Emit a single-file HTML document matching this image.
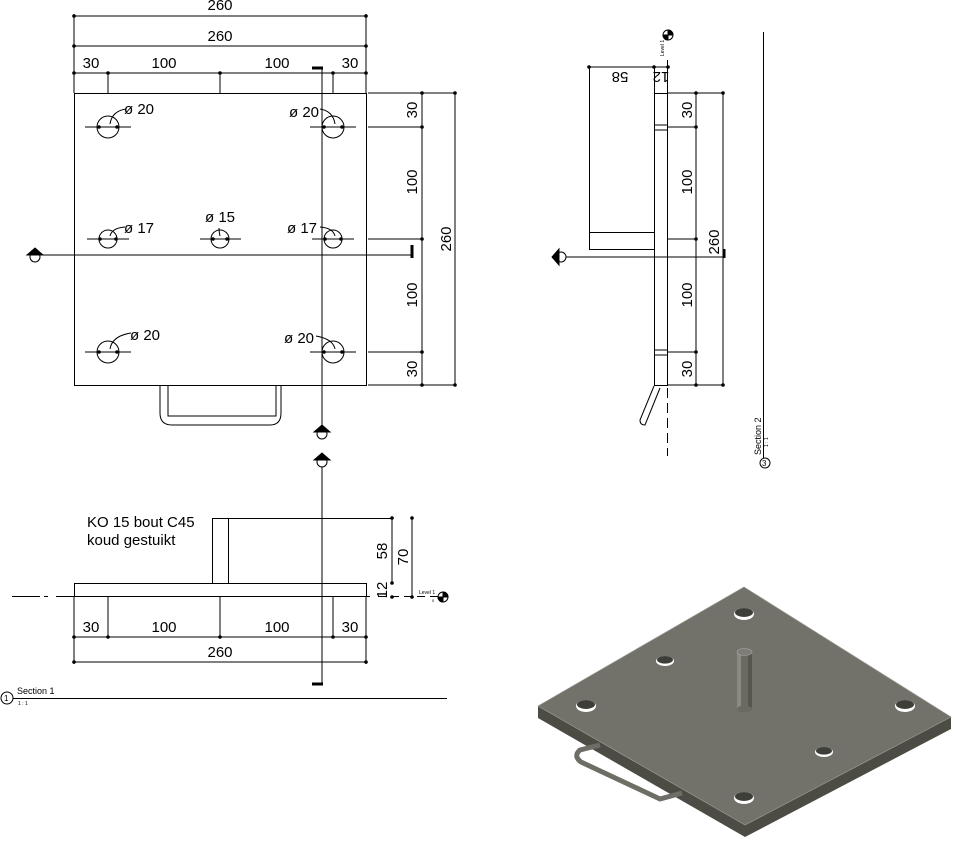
<!DOCTYPE html>
<html><head><meta charset="utf-8"><style>
html,body{margin:0;padding:0;background:#fff;}
svg{display:block;font-family:"Liberation Sans",sans-serif;}
</style></head><body>
<svg width="955" height="844" viewBox="0 0 955 844" xmlns="http://www.w3.org/2000/svg">
<g stroke="#000" stroke-width="1" fill="none">
<rect x="74.5" y="93.5" width="292" height="292"/>
<line x1="74" y1="16" x2="367" y2="16"/><line x1="74" y1="46" x2="367" y2="46"/><line x1="74" y1="73" x2="367" y2="73"/>
<line x1="74" y1="14" x2="74" y2="93"/><line x1="366" y1="14" x2="366" y2="93"/>
<line x1="108" y1="73" x2="108" y2="93"/><line x1="220" y1="73" x2="220" y2="93"/><line x1="333" y1="73" x2="333" y2="93"/>
<circle cx="108" cy="127" r="11"/><circle cx="333" cy="127" r="11"/>
<circle cx="108" cy="239" r="9"/><circle cx="220" cy="239" r="9"/><circle cx="333" cy="239" r="9"/>
<circle cx="108" cy="352" r="11"/><circle cx="333" cy="352" r="11"/>
<line x1="85" y1="127" x2="131" y2="127"/><line x1="310" y1="127" x2="356" y2="127"/>
<line x1="87" y1="239" x2="129" y2="239"/><line x1="200" y1="239" x2="241" y2="239"/><line x1="312" y1="239" x2="354" y2="239"/>
<line x1="85" y1="352" x2="131" y2="352"/><line x1="310" y1="352" x2="356" y2="352"/>
<path d="M110 124 Q112 111 126 109"/><path d="M335 124 Q333 111 320 109"/>
<path d="M110 236 Q112 228 125 227"/><path d="M335 236 Q333 228 320 227"/><path d="M220 236 Q219 232 219 228"/>
<path d="M110 349 Q112 336 131 333"/><path d="M335 349 Q333 339 316 336"/>
<line x1="368" y1="93" x2="456" y2="93"/><line x1="368" y1="385" x2="456" y2="385"/>
<line x1="368" y1="127" x2="422" y2="127"/><line x1="368" y1="239" x2="422" y2="239"/><line x1="368" y1="352" x2="422" y2="352"/>
<line x1="422" y1="93" x2="422" y2="385"/><line x1="455" y1="93" x2="455" y2="385"/>
<line x1="35" y1="255" x2="412" y2="255"/><path d="M412 245 V258" stroke-width="3"/>
<line x1="322" y1="68" x2="322" y2="432"/><path d="M312 68 H323" stroke-width="3"/>
<line x1="322" y1="460" x2="322" y2="684"/><path d="M312 684 H323" stroke-width="3"/>
<path d="M160 385 V413 Q160 425 172 425 H270 Q281 425 281 413 V385"/>
<path d="M168 385 V416 H276 V385"/>
<rect x="74.5" y="583.5" width="292" height="13"/>
<path d="M212.5 583 V518.5 H228.5 V583"/>
<line x1="228" y1="518.5" x2="392" y2="518.5"/>
<line x1="12" y1="596.5" x2="40" y2="596.5"/><line x1="44" y1="596.5" x2="48" y2="596.5"/><line x1="56" y1="596.5" x2="370" y2="596.5"/>
<line x1="378" y1="596.5" x2="440" y2="596.5" stroke-dasharray="8 5"/>
<line x1="74" y1="597" x2="74" y2="664"/><line x1="108" y1="597" x2="108" y2="637"/><line x1="220" y1="597" x2="220" y2="637"/><line x1="333" y1="597" x2="333" y2="637"/><line x1="366" y1="597" x2="366" y2="664"/>
<line x1="74" y1="637" x2="367" y2="637"/><line x1="74" y1="662" x2="367" y2="662"/>
<line x1="392" y1="518" x2="392" y2="583"/><line x1="412" y1="518" x2="412" y2="597"/>
<line x1="3" y1="698.5" x2="447" y2="698.5"/>
<circle cx="7" cy="698" r="6" fill="#fff"/>
<rect x="654.5" y="93.5" width="13" height="292"/>
<line x1="654" y1="125" x2="667" y2="125"/><line x1="654" y1="130" x2="667" y2="130"/>
<line x1="654" y1="350" x2="667" y2="350"/><line x1="654" y1="355" x2="667" y2="355"/>
<path d="M654 232.5 H589.5 V249.5 H654"/>
<line x1="589.5" y1="66" x2="589.5" y2="232"/>
<line x1="589" y1="67" x2="669" y2="67"/><line x1="654.5" y1="67" x2="654.5" y2="93"/><line x1="667.5" y1="60" x2="667.5" y2="93"/>
<line x1="667" y1="93" x2="724" y2="93"/><line x1="667" y1="385" x2="724" y2="385"/>
<line x1="667" y1="127" x2="696" y2="127"/><line x1="667" y1="239" x2="696" y2="239"/><line x1="667" y1="352" x2="696" y2="352"/>
<line x1="696" y1="93" x2="696" y2="385"/><line x1="723" y1="93" x2="723" y2="385"/>
<line x1="560" y1="257" x2="724" y2="257"/><path d="M724 249 V258" stroke-width="3"/>
<line x1="667.5" y1="388" x2="667.5" y2="456" stroke-dasharray="10 5"/>
<path d="M654 386 L640 420 Q640 425 645 425 L660 388"/>
<line x1="763.5" y1="32" x2="763.5" y2="458"/>
<circle cx="765" cy="463" r="5" fill="#fff"/>
</g>
<g fill="#000">
<circle cx="74" cy="16" r="1.8"/><circle cx="366" cy="16" r="1.8"/><circle cx="74" cy="46" r="1.8"/><circle cx="366" cy="46" r="1.8"/>
<circle cx="74" cy="73" r="1.8"/><circle cx="108" cy="73" r="1.8"/><circle cx="220" cy="73" r="1.8"/><circle cx="333" cy="73" r="1.8"/><circle cx="366" cy="73" r="1.8"/>
<circle cx="422" cy="93" r="1.8"/><circle cx="422" cy="127" r="1.8"/><circle cx="422" cy="239" r="1.8"/><circle cx="422" cy="352" r="1.8"/><circle cx="422" cy="385" r="1.8"/>
<circle cx="455" cy="93" r="1.8"/><circle cx="455" cy="385" r="1.8"/>
<circle cx="99" cy="127" r="1.8"/><circle cx="117" cy="127" r="1.8"/><circle cx="324" cy="127" r="1.8"/><circle cx="342" cy="127" r="1.8"/>
<circle cx="100" cy="239" r="1.8"/><circle cx="116" cy="239" r="1.8"/><circle cx="213" cy="239" r="1.8"/><circle cx="227" cy="239" r="1.8"/><circle cx="325" cy="239" r="1.8"/><circle cx="341" cy="239" r="1.8"/>
<circle cx="99" cy="352" r="1.8"/><circle cx="117" cy="352" r="1.8"/><circle cx="324" cy="352" r="1.8"/><circle cx="342" cy="352" r="1.8"/>
<circle cx="74" cy="637" r="1.8"/><circle cx="108" cy="637" r="1.8"/><circle cx="220" cy="637" r="1.8"/><circle cx="333" cy="637" r="1.8"/><circle cx="366" cy="637" r="1.8"/>
<circle cx="74" cy="662" r="1.8"/><circle cx="366" cy="662" r="1.8"/>
<circle cx="392" cy="518" r="1.8"/><circle cx="392" cy="583" r="1.8"/><circle cx="392" cy="597" r="1.8"/><circle cx="412" cy="518" r="1.8"/><circle cx="412" cy="597" r="1.8"/>
<circle cx="589" cy="67" r="1.8"/><circle cx="654" cy="67" r="1.8"/><circle cx="668" cy="67" r="1.8"/>
<circle cx="696" cy="93" r="1.8"/><circle cx="696" cy="127" r="1.8"/><circle cx="696" cy="239" r="1.8"/><circle cx="696" cy="352" r="1.8"/><circle cx="696" cy="385" r="1.8"/>
<circle cx="723" cy="93" r="1.8"/><circle cx="723" cy="385" r="1.8"/>
</g>
<g stroke="#000" fill="#fff" stroke-width="1">
<circle cx="35" cy="257" r="5"/><path d="M27 255 L35 248 L43 255 Z" fill="#000"/>
<circle cx="322" cy="434" r="5"/><path d="M314 432 L322 425 L330 432 Z" fill="#000"/>
<circle cx="322" cy="462" r="5"/><path d="M314 460 L322 453 L330 460 Z" fill="#000"/>
<circle cx="561" cy="257" r="5"/><path d="M559 249 L552 257 L559 265 Z" fill="#000"/>
<circle cx="443" cy="597" r="5"/><path d="M443 592 A5 5 0 0 1 448 597 H443 Z M443 597 V602 A5 5 0 0 1 438 597 Z" fill="#000"/>
<circle cx="668" cy="35" r="5"/><path d="M668 30 A5 5 0 0 1 673 35 H668 Z M668 35 V40 A5 5 0 0 1 663 35 Z" fill="#000"/>
</g>
<g font-size="15" fill="#000">
<text x="220" y="10" text-anchor="middle">260</text>
<text x="220" y="41" text-anchor="middle">260</text>
<text x="91" y="68" text-anchor="middle">30</text><text x="164" y="68" text-anchor="middle">100</text><text x="277" y="68" text-anchor="middle">100</text><text x="350" y="68" text-anchor="middle">30</text>
<text x="124" y="114">ø 20</text><text x="289" y="117">ø 20</text>
<text x="124" y="233">ø 17</text><text x="205" y="222">ø 15</text><text x="287" y="233">ø 17</text>
<text x="130" y="340">ø 20</text><text x="284" y="343">ø 20</text>
<text transform="translate(417,110) rotate(-90)" text-anchor="middle">30</text>
<text transform="translate(417,182) rotate(-90)" text-anchor="middle">100</text>
<text transform="translate(417,295) rotate(-90)" text-anchor="middle">100</text>
<text transform="translate(417,369) rotate(-90)" text-anchor="middle">30</text>
<text transform="translate(451,239) rotate(-90)" text-anchor="middle">260</text>
<text x="87" y="527">KO 15 bout C45</text><text x="87" y="545">koud gestuikt</text>
<text transform="translate(387,551) rotate(-90)" text-anchor="middle">58</text>
<text transform="translate(408,557) rotate(-90)" text-anchor="middle">70</text>
<text transform="translate(387,590) rotate(-90)" text-anchor="middle">12</text>
<text x="91" y="632" text-anchor="middle">30</text><text x="164" y="632" text-anchor="middle">100</text><text x="277" y="632" text-anchor="middle">100</text><text x="350" y="632" text-anchor="middle">30</text>
<text x="220" y="657" text-anchor="middle">260</text>
<text transform="translate(620,72) rotate(180)" text-anchor="middle">58</text>
<text transform="translate(661,72) rotate(180)" text-anchor="middle">12</text>
<text transform="translate(692,110) rotate(-90)" text-anchor="middle">30</text>
<text transform="translate(692,182) rotate(-90)" text-anchor="middle">100</text>
<text transform="translate(692,295) rotate(-90)" text-anchor="middle">100</text>
<text transform="translate(692,369) rotate(-90)" text-anchor="middle">30</text>
<text transform="translate(719,242) rotate(-90)" text-anchor="middle">260</text>
</g>
<g fill="#000">
<text x="17" y="694" font-size="9">Section 1</text><text x="18" y="705" font-size="5">1 : 1</text>
<text x="4" y="701" font-size="8">1</text>
<text transform="translate(761,455) rotate(-90)" font-size="9">Section 2</text>
<text transform="translate(768,447) rotate(-90)" font-size="5">1 : 1</text>
<text x="762" y="466" font-size="8">3</text>
<text x="419" y="594" font-size="5">Level 1</text><text x="432" y="602" font-size="4">0</text>
<text transform="translate(664,56) rotate(-90)" font-size="5">Level 1</text>
</g>
<g>
<polygon points="538,706 745,825 951,717 951,729 745,837 538,718" fill="#4c4c45"/>
<polygon points="538,706 744,587 951,717 745,825" fill="#72726a" stroke="#9a9a92" stroke-width="0.7"/>
<g>
<g fill="#fff"><ellipse cx="744" cy="614" rx="10" ry="6"/><ellipse cx="665" cy="661" rx="9" ry="5"/>
<ellipse cx="586" cy="706" rx="10" ry="6"/><ellipse cx="905" cy="706" rx="10" ry="6"/>
<ellipse cx="824" cy="752" rx="9" ry="5"/><ellipse cx="744" cy="798" rx="10" ry="6"/></g>
<g fill="#3e3e38"><ellipse cx="744" cy="612.5" rx="9" ry="4.5"/><ellipse cx="665" cy="659.8" rx="8" ry="3.8"/>
<ellipse cx="586" cy="704.5" rx="9" ry="4.5"/><ellipse cx="905" cy="704.5" rx="9" ry="4.5"/>
<ellipse cx="824" cy="750.8" rx="8" ry="3.8"/><ellipse cx="744" cy="796.5" rx="9" ry="4.5"/></g>
</g>
<rect x="737" y="652" width="15" height="57" fill="#6a6a62"/>
<rect x="737" y="652" width="4" height="57" fill="#8a8a82"/>
<rect x="748" y="652" width="4" height="57" fill="#56564f"/>
<ellipse cx="744.5" cy="709" rx="7.5" ry="3.5" fill="#6a6a62"/>
<ellipse cx="744.5" cy="652" rx="7.5" ry="3.5" fill="#7e7e76" stroke="#aaa" stroke-width="0.6"/>
<path d="M600 745 L580 750 Q573 756 581 762 L660 799 L682 793" fill="none" stroke="#6e6e66" stroke-width="5" stroke-linejoin="round"/>
</g>
</svg>
</body></html>
